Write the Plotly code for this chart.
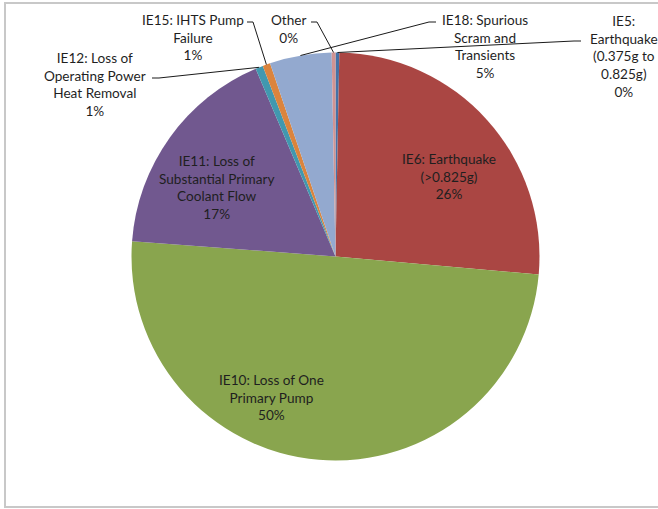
import math
import plotly.graph_objects as go

# ---- data ----
labels = [
    "IE5: Earthquake (0.375g to 0.825g)",
    "IE6: Earthquake (>0.825g)",
    "IE10: Loss of One Primary Pump",
    "IE11: Loss of Substantial Primary Coolant Flow",
    "IE12: Loss of Operating Power Heat Removal",
    "IE15: IHTS Pump Failure",
    "IE18: Spurious Scram and Transients",
    "Other",
]
label_text = [
    "IE5:<br>Earthquake<br>(0.375g to<br>0.825g)",
    "IE6: Earthquake<br>(>0.825g)",
    "IE10: Loss of One<br>Primary Pump",
    "IE11: Loss of<br>Substantial Primary<br>Coolant Flow",
    "IE12: Loss of<br>Operating Power<br>Heat Removal",
    "IE15: IHTS Pump<br>Failure",
    "IE18: Spurious<br>Scram and<br>Transients",
    "Other",
]
values = [0.3, 26.1, 49.8, 17.4, 0.6, 0.6, 4.9, 0.3]
colors = ["#4572A7", "#AA4643", "#89A54E", "#71588F", "#4198AF", "#DB843D", "#93A9CF", "#D19392"]

# ---- layout constants (pixels) ----
W, H = 658, 509
CX, CY, R = 335.5, 256.5, 204.0

# label centre positions (px) and leader-line anchor (px) for each slice; None = inside label
label_pos = [(624, 57), (449, 176), (271, 397), (217, 188), (95, 85), (193, 38), (485, 47), (288, 29)]
leader_start = [((581, 41), (574, 41)), None, None, None,
                ((152, 78), (159, 78)), ((247, 22), (253, 22)),
                ((436, 22), (429, 22)), ((311, 22), (317, 22))]

FONT = "Lato"
TXT = "#1f1f1f"
FS = 13.6

def px_to_paper(x, y):
    return x / W, 1 - y / H

fig = go.Figure(go.Pie(
    labels=labels,
    values=values,
    sort=False,
    direction="clockwise",
    rotation=0,
    marker=dict(colors=colors, line=dict(width=0)),
    textinfo="none",
    hoverinfo="label+percent",
    domain=dict(x=[(CX - R) / W, (CX + R) / W], y=[1 - (CY + R) / H, 1 - (CY - R) / H]),
    showlegend=False,
))

total = sum(values)
cum = 0.0
annotations = []
shapes = []
for i, v in enumerate(values):
    start = cum / total
    cum += v
    end = cum / total
    mid = (start + end) / 2
    th = 2 * math.pi * mid
    ex, ey = CX + R * math.sin(th), CY - R * math.cos(th)
    pct = round(100 * v / total)
    lx, ly = label_pos[i]
    ax, ay = px_to_paper(lx, ly)
    annotations.append(dict(
        x=ax, y=ay, xref="paper", yref="paper", showarrow=False,
        text=f"{label_text[i]}<br>{pct}%", align="center",
        xanchor="center", yanchor="middle",
        font=dict(family=FONT, size=FS, color=TXT),
    ))
    if leader_start[i] is not None:
        (x0, y0), (x1, y1) = leader_start[i]
        p0 = px_to_paper(x0, y0)
        p1 = px_to_paper(x1, y1)
        p2 = px_to_paper(ex, ey)
        shapes.append(dict(
            type="path", xref="paper", yref="paper",
            path=f"M {p0[0]},{p0[1]} L {p1[0]},{p1[1]} L {p2[0]},{p2[1]}",
            line=dict(color="#1a1a1a", width=1),
        ))

# chart frame
f0 = px_to_paper(5, 3)
f1 = px_to_paper(700, 507)
shapes.append(dict(type="rect", xref="paper", yref="paper",
                   x0=f0[0], y0=f1[1], x1=f1[0], y1=f0[1],
                   line=dict(color="#c8c8c8", width=2), fillcolor="rgba(0,0,0,0)"))

fig.update_layout(
    width=W, height=H,
    margin=dict(l=0, r=0, t=0, b=0),
    paper_bgcolor="white",
    plot_bgcolor="white",
    annotations=annotations,
    shapes=shapes,
    font=dict(family=FONT, size=FS, color=TXT),
)

fig.write_html("out.html")
